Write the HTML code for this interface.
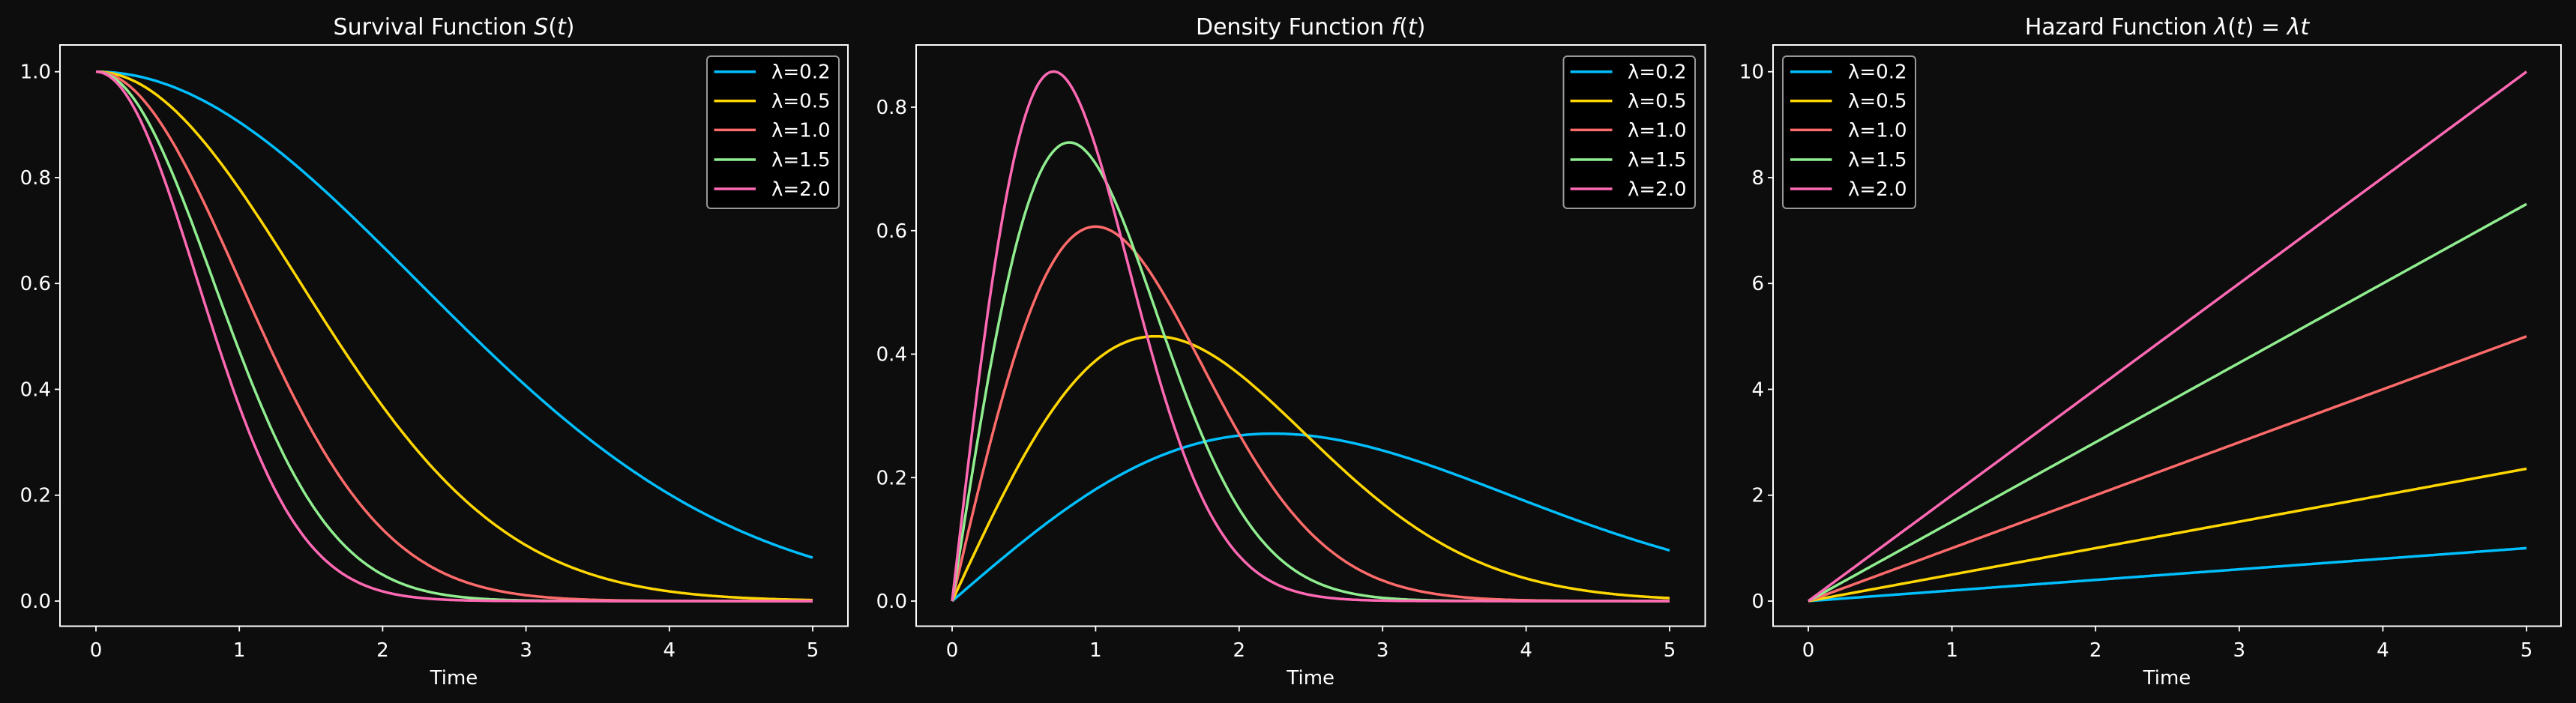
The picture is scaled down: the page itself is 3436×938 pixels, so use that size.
<!DOCTYPE html>
<html><head><meta charset="utf-8"><style>
html,body{margin:0;padding:0;background:#0d0d0d;}
svg{display:block;font-family:"DejaVu Sans","Liberation Sans",sans-serif;}
</style></head><body>
<svg id="s" width="3436" height="938" xmlns="http://www.w3.org/2000/svg"></svg>
<script>
const s=document.getElementById('s');let h='<rect width="3436" height="938" fill="#0d0d0d"/>';
const cols=['#00bfff','#ffd700','#ff6b6b','#90ee90','#ff69b4'],lams=[0.2,0.5,1.0,1.5,2.0];
const panels=[
 {L:80,R:1131,x0:128,x5:1084,T:60,B:835.5,ya:0,yb:1,pa:802,pb:95.7,ticks:[0,0.2,0.4,0.6,0.8,1.0],fmt:v=>v.toFixed(1),
  f:(l,t)=>Math.exp(-l*t*t/2),title:'Survival Function <tspan font-style="italic">S</tspan>(<tspan font-style="italic">t</tspan>)',leg:[943,1119,952.5,1008,1029]},
 {L:1222,R:2274.5,x0:1270,x5:2227,T:60,B:835.5,ya:0,yb:0.8,pa:802,pb:143,ticks:[0,0.2,0.4,0.6,0.8],fmt:v=>v.toFixed(1),
  f:(l,t)=>l*t*Math.exp(-l*t*t/2),title:'Density Function <tspan font-style="italic">f</tspan>(<tspan font-style="italic">t</tspan>)',leg:[2085.5,2261,2094.6,2150.5,2171]},
 {L:2365,R:3416,x0:2412,x5:3370,T:60,B:835.5,ya:0,yb:10,pa:802,pb:95.7,ticks:[0,2,4,6,8,10],fmt:v=>String(v),
  f:(l,t)=>l*t,title:'Hazard Function <tspan font-style="italic">λ</tspan>(<tspan font-style="italic">t</tspan>) = <tspan font-style="italic">λt</tspan>',leg:[2378,2555,2388,2443.5,2465]}
];
for(const p of panels){
 const X=t=>p.x0+(p.x5-p.x0)*t/5, Y=v=>p.pa+(p.pb-p.pa)*(v-p.ya)/(p.yb-p.ya);
 h+=`<text x="${(p.L+p.R)/2}" y="46" fill="#fff" font-size="30" text-anchor="middle">${p.title}</text>`;
 for(let i=0;i<lams.length;i++){let d='';for(let k=0;k<=400;k++){const t=5*k/400;d+=(k?'L':'M')+X(t).toFixed(1)+','+Y(p.f(lams[i],t)).toFixed(1);}
  h+=`<path d="${d}" fill="none" stroke="${cols[i]}" stroke-width="3.5"/>`;}
 h+=`<rect x="${p.L}" y="${p.T}" width="${p.R-p.L}" height="${p.B-p.T}" fill="none" stroke="#fff" stroke-width="2"/>`;
 for(let t=0;t<=5;t++){const x=X(t);h+=`<line x1="${x}" y1="${p.B}" x2="${x}" y2="${p.B+7}" stroke="#fff" stroke-width="1.8"/><text x="${x}" y="876" fill="#fff" font-size="26" text-anchor="middle">${t}</text>`;}
 for(const v of p.ticks){const y=Y(v);h+=`<line x1="${p.L}" y1="${y}" x2="${p.L-7}" y2="${y}" stroke="#fff" stroke-width="1.8"/><text x="${p.L-12}" y="${y+9}" fill="#fff" font-size="26" text-anchor="end">${p.fmt(v)}</text>`;}
 h+=`<text x="${(p.L+p.R)/2}" y="913" fill="#fff" font-size="26" text-anchor="middle">Time</text>`;
 const [bl,br,l1,l2,tx]=p.leg;
 h+=`<rect x="${bl}" y="75" width="${br-bl}" height="203" rx="5" fill="#000" stroke="#999" stroke-width="2"/>`;
 const ys=[95.7,134.6,173.4,213,252];
 for(let i=0;i<5;i++){h+=`<line x1="${l1}" y1="${ys[i]}" x2="${l2}" y2="${ys[i]}" stroke="${cols[i]}" stroke-width="3.5"/><text x="${tx}" y="${ys[i]+9}" fill="#fff" font-size="26">λ=${lams[i].toFixed(1)}</text>`;}
}
s.innerHTML=h;
</script>
</body></html>
